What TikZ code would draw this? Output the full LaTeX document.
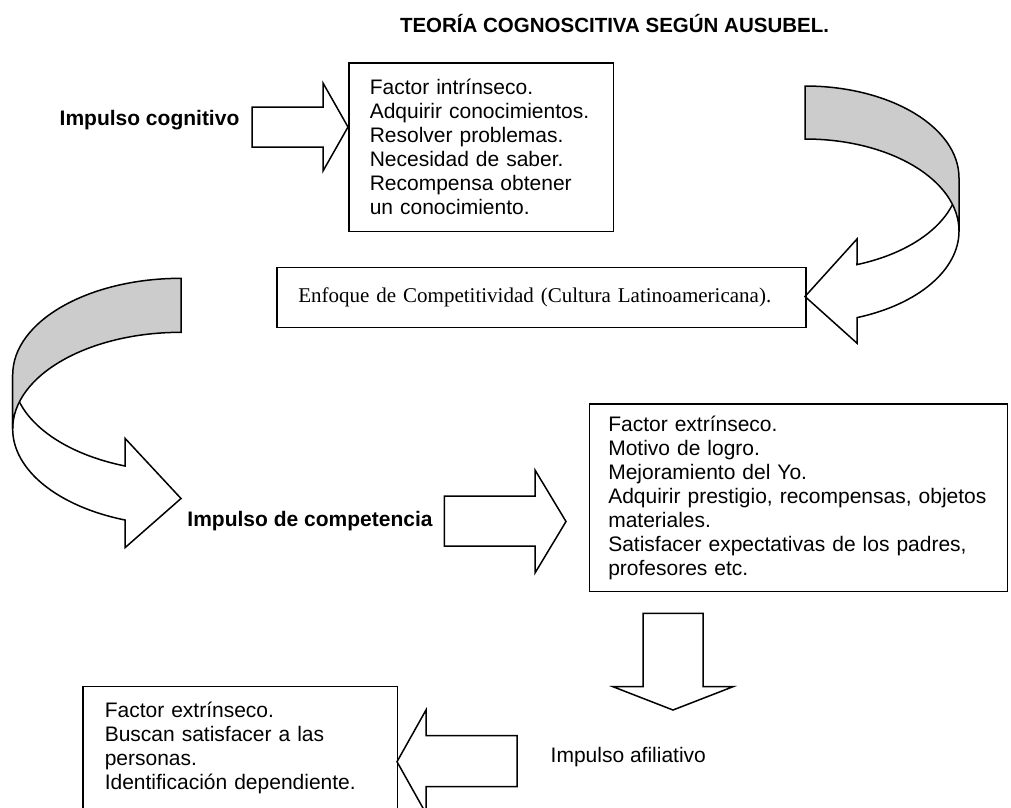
\documentclass[tikz,border=0pt]{standalone}
\usepackage{fontspec}
\setmainfont{Liberation Serif}
\setsansfont{Liberation Sans}
\tikzset{
	box/.style={rectangle,
		draw=black,
		line width=1.5pt,
		anchor=north west,
		align=left,
		inner xsep=21pt,
		font=\sffamily\fontsize{21}{24}\selectfont,
		},
	boxline/.style={draw=black, line width=1.5pt},
	impulse/.style={font=\sffamily\fontsize{21}{24}\selectfont},
	strongimpulse/.style={font=\sffamily\bfseries\fontsize{21}{24}\selectfont},
	heading/.style={font=\sffamily\bfseries\fontsize{20.5}{24}\selectfont},
	fatarrow/.style={draw=black, fill=white, line width=1.5pt},
	bandfront/.style={draw=black, fill=white, line width=1.5pt},
	bandback/.style={draw=black, fill=black!20, line width=1.5pt},
}

\begin{document}
\begin{tikzpicture}[x=1pt, y=-1pt]
   \useasboundingbox (0,0) rectangle (1011,807);

   \node[heading] (title) at (614.5,24) {TEORÍA COGNOSCITIVA SEGÚN AUSUBEL.};

   % primer impulso
   \node[strongimpulse] (cognitivo) at (149.5,120) {Impulso cognitivo};
   \node[box, text width=222.7pt, minimum height=168.7pt] (intrinseco) at (348,62)
   	{Factor intrínseco.\\ Adquirir conocimientos.\\ Resolver problemas.\\
   	 Necesidad de saber.\\ Recompensa obtener\\ un conocimiento.};
   \draw[fatarrow] (252,107) -- (323,107) -- (323,83) -- (348,127)
   	-- (323,171) -- (323,147) -- (252,147) -- cycle;

   % flecha curva derecha
   \draw[bandfront] (959,178) arc[start angle=0, end angle=70.27, x radius=154, y radius=92]
   	-- (857,239) -- (805,296.5) -- (857,343.2) -- (857,317.6)
   	arc[start angle=70.27, end angle=0, x radius=154, y radius=92] -- cycle;
   \draw[bandback] (805,86) arc[start angle=-90, end angle=0, x radius=154, y radius=92]
   	-- (959,231) arc[start angle=0, end angle=-90, x radius=154, y radius=92] -- cycle;

   \node[box, font=\rmfamily\fontsize{21}{24}\selectfont, inner xsep=21.5pt,
   	text width=486pt, minimum height=60pt] (enfoque) at (276,266.7)
   	{Enfoque de Competitividad (Cultura Latinoamericana).};

   % flecha curva izquierda
   \draw[bandfront] (12.7,374.9) arc[start angle=180, end angle=109.43, x radius=168.3, y radius=96.6]
   	-- (125,438.3) -- (181,498.5) -- (125,547.7) -- (125,520)
   	arc[start angle=109.43, end angle=180, x radius=168.3, y radius=96.6] -- cycle;
   \draw[bandback] (181,278.3) arc[start angle=270, end angle=180, x radius=168.3, y radius=96.6]
   	-- (12.7,428.9) arc[start angle=180, end angle=270, x radius=168.3, y radius=96.6] -- cycle;

   % segundo impulso
   \node[strongimpulse] (competencia) at (310,521) {Impulso de competencia};
   \draw[fatarrow] (444.4,496) -- (535,496) -- (535,470) -- (566,521.5)
   	-- (535,573) -- (535,546) -- (444.4,546) -- cycle;
   \node[box, inner xsep=19pt, text width=380pt, minimum height=187.7pt] (extrinseco) at (588.5,403)
   	{Factor extrínseco.\\ Motivo de logro.\\ Mejoramiento del Yo.\\
   	 Adquirir prestigio, recompensas, objetos\\ materiales.\\
   	 Satisfacer expectativas de los padres,\\ profesores etc.};
   \draw[fatarrow] (643,613.3) -- (703,613.3) -- (703,686.7) -- (733,686.7)
   	-- (673,710) -- (613,686.7) -- (643,686.7) -- cycle;

   % tercer impulso
   \node[impulse] (afiliativo) at (628.3,757) {Impulso afiliativo};
   \node[box, draw=none, text width=271pt, inner ysep=15pt] (afiliacion) at (83,686.7)
   	{Factor extrínseco.\\ Buscan satisfacer a las\\ personas.\\ Identificación dependiente.};
   \draw[boxline] (afiliacion.north west) rectangle ([yshift=-80pt]afiliacion.south east);
   \draw[fatarrow] (517,735.7) -- (426,735.7) -- (426,710) -- (397,761.7)
   	-- (426,813.4) -- (426,786.7) -- (517,786.7) -- cycle;
\end{tikzpicture}
\end{document}
